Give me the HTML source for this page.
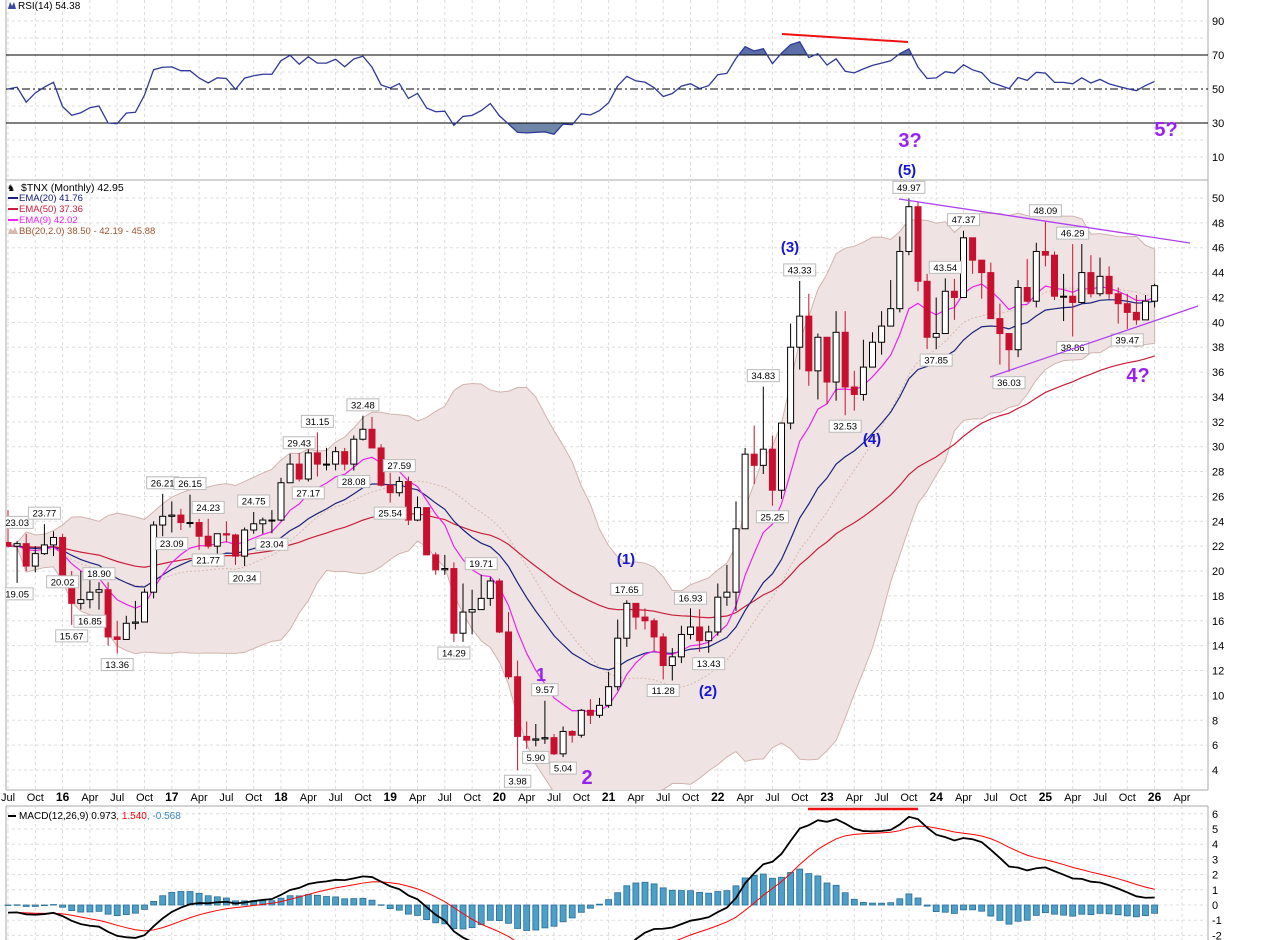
<!DOCTYPE html>
<html><head><meta charset="utf-8"><style>
html,body{margin:0;padding:0;background:#fff;width:1278px;height:940px;overflow:hidden;}
svg{display:block;font-family:"Liberation Sans",sans-serif;overflow:hidden;}
</style></head><body>
<svg id="chart" width="1278" height="940" viewBox="0 0 1278 940" xmlns="http://www.w3.org/2000/svg">
<defs>
<clipPath id="mainclip"><rect x="6" y="180" width="1202" height="610"/></clipPath>
</defs>
<rect x="0" y="0" width="1278" height="940" fill="#fff"/>
<g id="grid"></g>
<g id="rsi"></g>
<g id="mainwrap">
<g id="main" clip-path="url(#mainclip)"></g>
<g id="mainaxis"></g>
</g>
<g id="xaxis"></g>
<g id="macd"></g>
<g id="ann"></g>
</svg>
<script>
const closes=[22.0,22.2,20.4,21.4,22.1,22.7,
19.2,17.4,17.7,18.3,18.5,14.7,14.5,15.8,15.9,18.3,23.7,24.4,
24.5,23.9,23.9,22.8,22.0,23.0,22.9,21.2,23.3,23.8,24.1,24.1,
27.1,28.6,27.4,29.5,28.6,28.6,29.6,28.6,30.6,31.4,29.9,26.9,
26.3,27.2,24.1,25.1,21.3,20.1,20.2,15.0,16.7,16.9,17.8,19.2,
15.1,11.5,6.7,6.4,6.5,6.6,5.3,7.1,6.8,8.8,8.4,9.2,
10.7,14.6,17.4,16.3,16.0,14.7,12.4,13.1,14.9,15.5,14.4,15.1,
17.9,18.3,23.4,29.4,28.5,29.8,26.5,31.9,38.0,40.5,36.1,38.8,
35.2,39.2,34.8,34.2,36.4,38.4,39.7,41.1,45.7,49.3,43.3,38.8,
39.1,42.5,42.0,46.8,45.0,44.0,40.3,39.1,37.8,42.8,41.7,45.7,
45.4,42.1,42.1,41.6,44.0,42.3,43.7,42.3,41.5,40.8,40.2,41.7,
42.95];
const highs=[24.9,22.4,23.0,22.0,23.77,23.2,
23.0,20.0,20.0,19.3,19.1,19.1,16.0,16.4,17.6,18.6,24.0,26.21,
25.6,25.0,26.15,24.2,24.2,23.0,24.0,23.0,23.5,24.75,24.3,24.9,
27.5,29.43,29.5,30.3,31.15,29.9,30.0,29.9,30.9,32.48,32.4,30.2,
27.9,27.59,27.6,26.0,25.0,21.5,21.3,20.7,19.0,18.5,19.71,19.5,
19.4,16.7,12.8,7.9,7.7,9.57,6.9,7.5,7.2,8.9,9.7,9.8,
11.9,16.1,17.65,17.0,17.0,16.2,15.0,13.8,15.6,17.0,16.93,15.6,
19.0,20.5,25.6,29.9,31.7,34.83,30.9,31.9,39.9,43.33,42.3,39.1,
38.8,40.9,40.9,36.1,38.6,39.2,40.9,43.4,46.9,49.97,49.7,43.9,
42.0,43.54,43.5,47.37,46.3,44.9,44.8,41.5,38.3,43.4,45.1,46.4,
48.09,45.7,43.9,46.29,46.3,45.4,45.2,44.5,42.8,42.3,42.2,42.2,
43.1];
const lows=[21.9,19.05,20.0,19.9,21.3,21.2,
19.0,15.67,16.9,17.0,16.9,14.0,13.36,14.9,15.3,15.9,17.8,22.8,
23.1,23.3,23.5,21.7,21.8,20.34,22.3,20.5,20.4,23.0,23.0,23.04,
24.0,27.2,27.2,27.2,27.6,28.1,28.1,28.1,28.08,30.5,29.9,26.8,
25.5,26.0,23.7,24.0,21.3,19.7,19.7,14.3,14.3,14.9,16.9,17.2,
15.0,11.3,3.98,5.7,5.9,6.1,5.2,5.04,6.2,6.6,7.7,8.2,
9.0,10.4,13.9,15.3,15.3,13.6,11.28,11.2,12.6,14.5,13.5,13.43,
14.8,17.2,16.8,23.4,27.0,27.8,25.25,25.8,31.4,36.2,34.9,33.8,
33.4,33.7,32.53,32.9,33.7,36.6,37.4,39.9,40.8,45.4,42.5,37.85,
37.85,40.5,40.2,42.1,43.9,41.9,40.3,36.6,36.03,37.2,41.6,41.2,
44.5,41.8,40.1,38.86,41.5,42.0,42.1,41.9,39.9,39.47,39.8,40.9,
41.2];
const priceTicks=[4,6,8,10,12,14,16,18,20,22,24,26,28,30,32,34,36,38,40,42,44,46,48,50];
const rsiTicks=[10,30,50,70,90];
const macdTicks=[-2,-1,0,1,2,3,4,5,6];
const labelIdx=[1,1,4,6,7,10,9,12,17,18,20,22,22,26,27,29,32,33,34,38,39,43,42,52,49,56,58,59,61,68,72,75,77,83,84,87,92,99,102,103,105,110,114,117,117,123];
const labelVal=[23.03,19.05,23.77,20.02,15.67,18.90,16.85,13.36,26.21,23.09,26.15,24.23,21.77,20.34,24.75,23.04,29.43,27.17,31.15,28.08,32.48,27.59,25.54,19.71,14.29,3.98,5.90,9.57,5.04,17.65,11.28,16.93,13.43,34.83,25.25,43.33,32.53,49.97,37.85,43.54,47.37,36.03,48.09,46.29,38.86,39.47];
const labelSide=['h','l','h','l','l','h','l','l','h','l','h','h','l','l','h','l','h','l','h','l','h','h','l','h','l','l','l','h','l','h','l','h','l','h','l','h','l','h','l','h','h','l','h','h','l','l'];

const NS='http://www.w3.org/2000/svg';
const L=6,R=1208;
const X=i=>8+i*9.1;
const PY=v=>770-(v-4)*12.435;
const RY=v=>89-(v-50)*1.7;
const MY=v=>905-v*15.2;
function el(tag,attrs,parent){const e=document.createElementNS(NS,tag);for(const k in attrs)e.setAttribute(k,attrs[k]);parent.appendChild(e);return e;}
function txt(s,attrs,parent){const e=el('text',attrs,parent);e.textContent=s;return e;}
const G=id=>document.getElementById(id);
const n=closes.length;
const opens=closes.map((c,i)=>i===0?22.3:closes[i-1]);
function ema(a,p){const k=2/(p+1);const o=[];a.forEach((v,i)=>o.push(i===0?v:v*k+o[i-1]*(1-k)));return o;}
const e9=ema(closes,9),e20=ema(closes,20),e50=ema(closes,50);
const bbU=[],bbL=[],bbM=[];
closes.forEach((c,i)=>{const s=closes.slice(Math.max(0,i-19),i+1);const m=s.reduce((a,b)=>a+b,0)/s.length;const sd=Math.sqrt(s.reduce((a,b)=>a+(b-m)*(b-m),0)/s.length);bbM.push(m);bbU.push(m+2*sd);bbL.push(m-2*sd);});
const rsi=[50];let ag=0.35,al=0.35;
for(let i=1;i<n;i++){const d=closes[i]-closes[i-1];ag=(ag*13+Math.max(d,0))/14;al=(al*13+Math.max(-d,0))/14;rsi.push(100-100/(1+ag/al));}
const e12=ema(closes,12),e26=ema(closes,26);
const macd=closes.map((c,i)=>e12[i]-e26[i]-0.5);
const sig=ema(macd,9);
const hist=macd.map((m,i)=>m-sig[i]);

const grid=G('grid');
[[0,180],[180,790],[806,940]].forEach(([t,b])=>{el('line',{x1:L,y1:t,x2:L,y2:b,stroke:'#aaa'},grid);el('line',{x1:R,y1:t,x2:R,y2:b,stroke:'#aaa'},grid);});
el('line',{x1:L,y1:180,x2:R,y2:180,stroke:'#aaa'},grid);
el('line',{x1:L,y1:790,x2:R,y2:790,stroke:'#aaa'},grid);
el('line',{x1:L,y1:806,x2:R,y2:806,stroke:'#aaa'},grid);
for(let i=0;i<=130;i+=3){const x=X(i);if(x>R)break;
 [[0,180],[180,790],[806,940]].forEach(([t,b])=>el('line',{x1:x,y1:t,x2:x,y2:b,stroke:'#ddd','stroke-dasharray':'3,3'},grid));}
for(let v=10;v<=90;v+=10){if(v===30||v===50||v===70)continue;el('line',{x1:L,y1:RY(v),x2:R,y2:RY(v),stroke:'#ddd','stroke-dasharray':'3,3'},grid);}
priceTicks.forEach(v=>el('line',{x1:L,y1:PY(v),x2:R,y2:PY(v),stroke:'#ddd','stroke-dasharray':'3,3'},grid));
macdTicks.forEach(v=>el('line',{x1:L,y1:MY(v),x2:R,y2:MY(v),stroke:'#ddd','stroke-dasharray':'3,3'},grid));

const rg=G('rsi');
const rline=rsi.map((v,i)=>X(i)+','+RY(v)).join(' ');
const defs=el('defs',{},rg);
const c1=el('clipPath',{id:'above70'},defs);el('rect',{x:0,y:0,width:1278,height:RY(70)},c1);
const c2=el('clipPath',{id:'below30'},defs);el('rect',{x:0,y:RY(30),width:1278,height:57},c2);
const c3=el('clipPath',{id:'macdclip'},defs);el('rect',{x:0,y:806,width:1278,height:134},c3);
const f1=el('polygon',{points:X(0)+','+RY(70)+' '+rline+' '+X(n-1)+','+RY(70),fill:'#5b6ea8','clip-path':'url(#above70)'},rg);

const f2=el('polygon',{points:X(0)+','+RY(30)+' '+rline+' '+X(n-1)+','+RY(30),fill:'#6f86a8','clip-path':'url(#below30)'},rg);

el('line',{x1:L,y1:RY(70),x2:R,y2:RY(70),stroke:'#000'},rg);
el('line',{x1:L,y1:RY(30),x2:R,y2:RY(30),stroke:'#000'},rg);
el('line',{x1:L,y1:RY(50),x2:R,y2:RY(50),stroke:'#000',"stroke-dasharray":'8,3,2,3'},rg);
const rl=el('polyline',{points:rline,fill:'none',stroke:'#2e3a9a','stroke-width':1.3},rg);

rsiTicks.forEach(v=>txt(String(v),{x:1212,y:RY(v)+4,'font-size':11,fill:'#000'},rg));
const rt=txt('RSI(14) 54.38',{x:18,y:9,'font-size':10,fill:'#000'},rg);

el('path',{d:'M8 9 L10 2 L12 6 L14 2 L16 9 Z',fill:'#3a4aa0'},rg);

const mg=G('main');const ma=G('mainaxis');
const bbPts=bbU.map((v,i)=>X(i)+','+PY(v)).concat(bbL.map((v,i)=>X(i)+','+PY(v)).reverse()).join(' ');
const bb=el('polygon',{points:bbPts,fill:'#efe4e3',stroke:'#d2b3ae','stroke-width':1},mg);

const bm=el('polyline',{points:bbM.map((v,i)=>X(i)+','+PY(v)).join(' '),fill:'none',stroke:'#d8b8b0','stroke-dasharray':'2,2'},mg);

const l50=el('polyline',{points:e50.map((v,i)=>X(i)+','+PY(v)).join(' '),fill:'none',stroke:'#cc1d3a','stroke-width':1.2},mg);

const l20=el('polyline',{points:e20.map((v,i)=>X(i)+','+PY(v)).join(' '),fill:'none',stroke:'#1a237e','stroke-width':1.2},mg);

const l9=el('polyline',{points:e9.map((v,i)=>X(i)+','+PY(v)).join(' '),fill:'none',stroke:'#ee22ee','stroke-width':1.2},mg);

for(let i=0;i<n;i++){
 const o=opens[i],c=closes[i],up=c>=o;const col=up?'#000':'#c8102e';
 const g=el('g',{},mg);
 
 
 el('line',{x1:X(i),y1:PY(highs[i]),x2:X(i),y2:PY(lows[i]),stroke:col},g);
 const top=PY(Math.max(o,c)),bot=PY(Math.min(o,c));
 el('rect',{x:X(i)-3,y:top,width:6,height:Math.max(1,bot-top),fill:up?'#fff':'#c8102e',stroke:col},g);
}
for(let k=0;k<labelIdx.length;k++){
 const i=labelIdx[k],v=labelVal[k],s=labelVal[k].toFixed(2),x=X(i);
 const w=s.length*5.6+4;const yb=labelSide[k]==='h'?PY(v)-17:PY(v)+5;
 const g=el('g',{},mg);
 
 
 el('rect',{x:x-w/2,y:yb,width:w,height:12,fill:'#fff',stroke:'#bbb'},g);
 txt(s,{x:x,y:yb+9.5,'font-size':9.5,'text-anchor':'middle',fill:'#000'},g);
}
priceTicks.forEach(v=>txt(String(v),{x:1212,y:PY(v)+4,'font-size':11,fill:'#000'},ma));
const lg=el('g',{},mg);
txt('$TNX (Monthly) 42.95',{x:21,y:191,'font-size':10.5,fill:'#000'},lg);
txt('♞',{x:7,y:191,'font-size':9,fill:'#000'},lg);
el('rect',{x:8,y:197,width:10,height:2,fill:'#1a237e'},lg);txt('EMA(20) 41.76',{x:19,y:201,'font-size':9.5,fill:'#1a237e'},lg);
el('rect',{x:8,y:208,width:10,height:2,fill:'#cc1d3a'},lg);txt('EMA(50) 37.36',{x:19,y:212,'font-size':9.5,fill:'#cc1d3a'},lg);
el('rect',{x:8,y:219,width:10,height:2,fill:'#ee22ee'},lg);txt('EMA(9) 42.02',{x:19,y:223,'font-size':9.5,fill:'#ee22ee'},lg);
el('path',{d:'M8 234 L10 228 L13 231 L15 227 L18 234Z',fill:'#d9b8ae'},lg);txt('BB(20,2.0) 38.50 - 42.19 - 45.88',{x:19,y:234,'font-size':9.5,fill:'#a0522d'},lg);

const xg=G('xaxis');const mn=['Jan','Apr','Jul','Oct'];
for(let i=0;i<=129;i+=3){const mIdx=(6+i)%12;const yr=2015+Math.floor((6+i)/12);const x=X(i);if(x>R-5)break;
 const lab=mIdx===0?String(yr%100):mn[mIdx/3];
 txt(lab,{x:x,y:801,'font-size':mIdx===0?12:11,'font-weight':mIdx===0?'bold':'normal','text-anchor':'middle',fill:'#000'},xg);}

const cg=G('macd');
const cin=el('g',{'clip-path':'url(#macdclip)'},cg);
for(let i=0;i<n;i++){const h=hist[i];const y0=MY(0),y1=MY(h);
 const b=el('rect',{x:X(i)-3,y:Math.min(y0,y1),width:6,height:Math.max(0.5,Math.abs(y1-y0)),fill:'#4d9fc8',stroke:'#2a6f99','stroke-width':0.8},cin);
 
 }
const sl=el('polyline',{points:sig.map((v,i)=>X(i)+','+MY(v)).join(' '),fill:'none',stroke:'#ff0000','stroke-width':1},cin);

const ml=el('polyline',{points:macd.map((v,i)=>X(i)+','+MY(v)).join(' '),fill:'none',stroke:'#000','stroke-width':1.8},cin);

macdTicks.forEach(v=>txt(String(v),{x:1212,y:MY(v)+4,'font-size':11,fill:'#000'},cg));
const mlg=el('g',{},cg);
el('rect',{x:8,y:815,width:8,height:2,fill:'#000'},mlg);
const mt=txt('',{x:19,y:819,'font-size':10,fill:'#000'},mlg);
mt.innerHTML='MACD(12,26,9) 0.973<tspan fill="#ff0000">, 1.540</tspan><tspan fill="#3a87c0">, -0.568</tspan>';

const an=G('ann');
function note(s,x,y,col,size,name){const t=txt(s,{x:x,y:y,'font-size':size,'font-weight':'bold',fill:col,'text-anchor':'middle'},an);}
note('(1)',626,564,'#1515d5',15,'wave-1-label');
note('(2)',708,696,'#1515d5',15,'wave-2-label');
note('(3)',790,252,'#1515d5',15,'wave-3-label');
note('(4)',872,444,'#1515d5',15,'wave-4-label');
note('(5)',907,175,'#1515d5',15,'wave-5-label');
note('3?',910,147,'#9922ee',20,'wave-3q-label');
note('1',541,681,'#9922ee',18,'wave-minor-1-label');
note('2',587,784,'#9922ee',20,'wave-minor-2-label');
note('4?',1138,382,'#9922ee',20,'wave-4q-label');
note('5?',1166,136,'#9922ee',20,'wave-5q-label');
const t1=el('line',{x1:899,y1:199,x2:1190,y2:243,stroke:'#b040f0','stroke-width':1.3},an);
const t2=el('line',{x1:990,y1:377,x2:1198,y2:306,stroke:'#b040f0','stroke-width':1.3},an);
const t3=el('line',{x1:782,y1:34,x2:908,y2:42,stroke:'#ee1111','stroke-width':2},an);
const t4=el('line',{x1:808,y1:809,x2:918,y2:809,stroke:'#ee1111','stroke-width':2.5},an);
</script>
</body></html>
